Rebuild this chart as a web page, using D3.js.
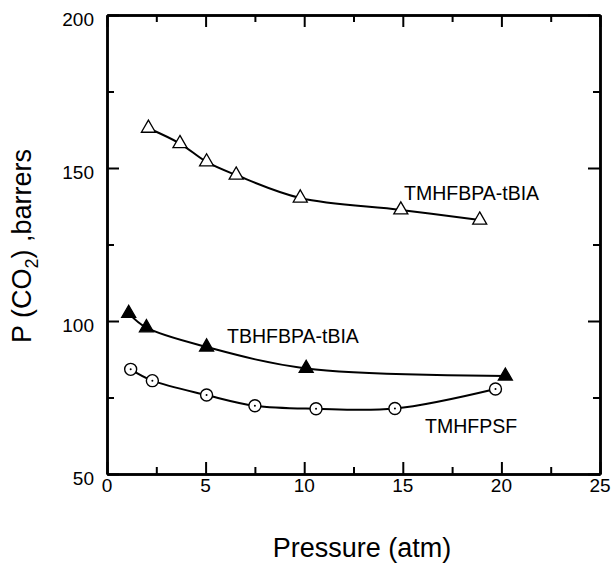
<!DOCTYPE html>
<html>
<head>
<meta charset="utf-8">
<script src="https://cdn.jsdelivr.net/npm/d3@7"></script>
<style>
  body { margin: 0; background: #fff; }
  svg { font-family: "Liberation Sans", Arial, Helvetica, sans-serif; }
  .axis path, .axis line { stroke: #000; stroke-width: 2; }
  .axis path.domain { stroke-width: 2.5; }
</style>
</head>
<body>
<svg class="chart" width="613" height="563"></svg>
<script>
// data
var tmhfbpaPressure = [2.1, 3.7, 5.05, 6.55, 9.8, 14.9, 18.9];
var tmhfbpaPerm     = [163, 158, 152, 147.7, 140.2, 136.3, 133];

var tbhfbpaPressure = [1.1, 2.0, 5.05, 10.1, 20.2];
var tbhfbpaPerm     = [102.5, 97.8, 91.5, 84.5, 82];

var tmhfpsfPressure = [1.2, 2.3, 5.05, 7.5, 10.6, 14.6, 19.7];
var tmhfpsfPerm     = [84.2, 80.5, 75.8, 72.3, 71.3, 71.4, 77.8];

var xTicks = [0, 5, 10, 15, 20, 25];
var yTicks = [50, 100, 150, 200];

function zip(xs, ys) {
  return xs.map(function(v, i) { return {x: v, y: ys[i]}; });
}

var margin = {top: 15, right: 13, bottom: 89, left: 107};
var svgWidth = 613, svgHeight = 563;
var width = svgWidth - margin.left - margin.right;
var height = svgHeight - margin.top - margin.bottom;

var svg = d3.select('.chart');
var g = svg.append('g')
    .attr('transform', 'translate(' + margin.left + ',' + margin.top + ')');

var x = d3.scaleLinear().domain([0, 25]).range([0, width]);
var y = d3.scaleLinear().domain([50, 200]).range([height, 0]);

var minX = d3.range(2.5, 25, 5);
var minY = d3.range(75, 200, 50);

// frame + inward ticks, all four sides
function addAxis(axis, tr) {
  g.append('g')
    .attr('class', 'axis')
    .attr('transform', tr)
    .call(axis)
    .call(function(a) { a.selectAll('text').remove(); });
}
addAxis(d3.axisBottom(x).tickValues(xTicks).tickSize(-12).tickSizeOuter(0), 'translate(0,' + height + ')');
addAxis(d3.axisBottom(x).tickValues(minX).tickSize(-7).tickSizeOuter(0), 'translate(0,' + height + ')');
addAxis(d3.axisTop(x).tickValues(xTicks).tickSize(-12).tickSizeOuter(0), 'translate(0,0)');
addAxis(d3.axisTop(x).tickValues(minX).tickSize(-7).tickSizeOuter(0), 'translate(0,0)');
addAxis(d3.axisLeft(y).tickValues(yTicks).tickSize(-12).tickSizeOuter(0), 'translate(0,0)');
addAxis(d3.axisLeft(y).tickValues(minY).tickSize(-7).tickSizeOuter(0), 'translate(0,0)');
addAxis(d3.axisRight(y).tickValues(yTicks).tickSize(-12).tickSizeOuter(0), 'translate(' + width + ',0)');
addAxis(d3.axisRight(y).tickValues(minY).tickSize(-7).tickSizeOuter(0), 'translate(' + width + ',0)');

// tick labels
g.selectAll('.xlab').data(xTicks).enter().append('text')
  .attr('class', 'xlab')
  .attr('x', function(d) { return x(d); })
  .attr('y', height + 18)
  .attr('text-anchor', 'middle')
  .attr('font-size', '19px')
  .text(function(d) { return d; });

g.selectAll('.ylab').data(yTicks).enter().append('text')
  .attr('class', 'ylab')
  .attr('x', -13)
  .attr('y', function(d) { return y(d) + 11; })
  .attr('text-anchor', 'end')
  .attr('font-size', '19px')
  .text(function(d) { return d; });

// axis titles
svg.append('text')
  .attr('x', 362)
  .attr('y', 557)
  .attr('text-anchor', 'middle')
  .attr('font-size', '27px')
  .text('Pressure (atm)');

var yt = svg.append('text')
  .attr('transform', 'translate(31,343) rotate(-90)')
  .attr('font-size', '27px');
yt.append('tspan').text('P (CO');
yt.append('tspan').attr('font-size', '18px').attr('dy', 7).text('2');
yt.append('tspan').attr('dy', -7).text(') ,barrers');

// curves
var line = d3.line()
  .curve(d3.curveCatmullRom)
  .x(function(d) { return x(d.x); })
  .y(function(d) { return y(d.y); });

var series = [
  {pts: zip(tmhfbpaPressure, tmhfbpaPerm), shape: 'tri', fill: '#fff'},
  {pts: zip(tbhfbpaPressure, tbhfbpaPerm), shape: 'tri', fill: '#000'},
  {pts: zip(tmhfpsfPressure, tmhfpsfPerm), shape: 'circ', fill: '#fff'}
];

series.forEach(function(s) {
  g.append('path')
    .datum(s.pts)
    .attr('fill', 'none')
    .attr('stroke', '#000')
    .attr('stroke-width', 2)
    .attr('d', line);

  var m = g.append('g').selectAll('g').data(s.pts).enter().append('g')
    .attr('transform', function(d) { return 'translate(' + x(d.x) + ',' + y(d.y) + ')'; });
  if (s.shape == 'tri') {
    m.append('path')
      .attr('d', d3.symbol(d3.symbolTriangle, 85))
      .attr('fill', s.fill)
      .attr('stroke', '#000')
      .attr('stroke-width', 1.3);
  } else {
    m.append('circle').attr('r', 6)
      .attr('fill', '#fff').attr('stroke', '#000').attr('stroke-width', 1.4);
    m.append('circle').attr('r', 1).attr('fill', '#000');
  }
});

// series labels
var labels = [
  {t: 'TMHFBPA-tBIA', px: 404, py: 200},
  {t: 'TBHFBPA-tBIA', px: 227, py: 343},
  {t: 'TMHFPSF', px: 425, py: 433}
];
svg.selectAll('.slab').data(labels).enter().append('text')
  .attr('class', 'slab')
  .attr('x', function(d) { return d.px; })
  .attr('y', function(d) { return d.py; })
  .attr('font-size', '19.5px')
  .text(function(d) { return d.t; });
</script>
</body>
</html>
